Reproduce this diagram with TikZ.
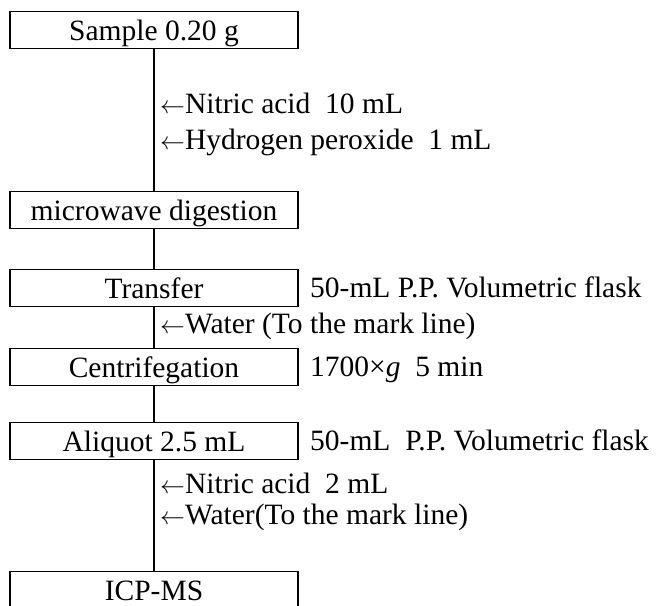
\documentclass[tikz,border=0pt]{standalone}
\usepackage{fontspec}
\setmainfont{Liberation Serif}
\usetikzlibrary{positioning}

\newcommand{\addarrow}{\(\leftarrow\)}

\tikzset{
  stepbox/.style={draw, line width=1.8pt, minimum width=288pt, minimum height=37pt,
    inner sep=0pt, text height=21pt, text depth=0pt, font=\fontsize{29.5}{34}\selectfont},
  note/.style={anchor=west, inner sep=0pt, text height=19pt, text depth=0pt,
    font=\fontsize{29.5}{34}\selectfont},
  flow/.style={line width=1.8pt}
}

\begin{document}
\begin{tikzpicture}[x=1pt,y=-1pt]
    \useasboundingbox (0,0) rectangle (663,605);

    % Process steps
    \node[stepbox] (sample) at (154,30) {Sample 0.20 g};
    \node[stepbox] (digest) at (154,210) {microwave digestion};
    \node[stepbox] (transfer) at (154,288) {Transfer};
    \node[stepbox] (centri) at (154,367) {Centrifegation};
    \node[stepbox] (aliquot) at (154,441) {Aliquot 2.5 mL};
    \node[stepbox] (icpms) at (154,590) {ICP-MS};

    % Main line
    \draw[flow] (sample) -- (digest);
    \draw[flow] (digest) -- (transfer);
    \draw[flow] (transfer) -- (centri);
    \draw[flow] (centri) -- (aliquot);
    \draw[flow] (aliquot) -- (icpms);

    % Reagents added
    \node[note] (hno1) at (160,104) {\addarrow Nitric acid\ \ 10 mL};
    \node[note] (hperox) at (160,140) {\addarrow Hydrogen peroxide\ \ 1 mL};
    \node[note] (water1) at (160,324) {\addarrow Water (To the mark line)};
    \node[note] (hno2) at (160,484) {\addarrow Nitric acid\ \ 2 mL};
    \node[note] (water2) at (160,515) {\addarrow Water(To the mark line)};

    % Conditions
    \node[note] (flask1) at (310,288) {50-mL P.P. Volumetric flask};
    \node[note] (spin) at (310,367) {1700×\textit{g}\ \ 5 min};
    \node[note] (flask2) at (310,441) {50-mL\ \ P.P. Volumetric flask};
\end{tikzpicture}
\end{document}
